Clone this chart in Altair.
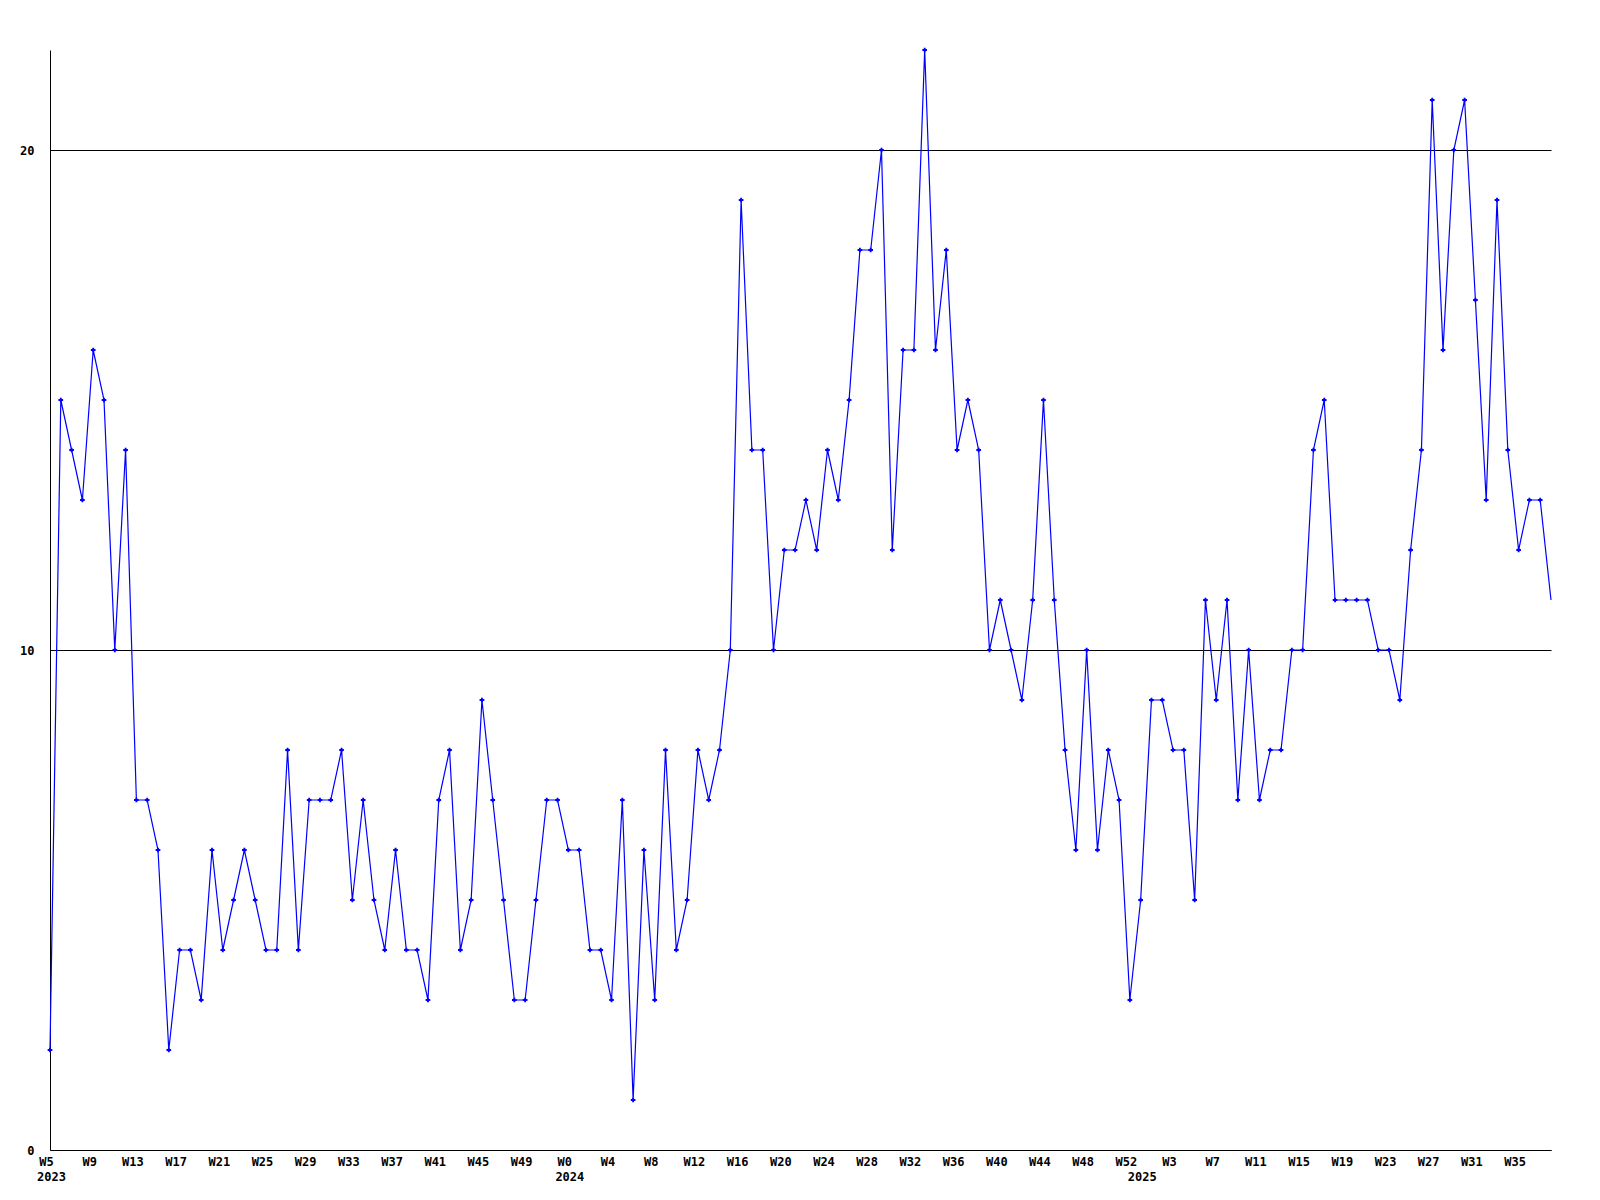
import json
import altair as alt
import pandas as pd

# Weekly counts, 2023 W5 .. 2025 W38
values = [2, 15, 14, 13, 16, 15, 10, 14, 7, 7, 6, 2, 4, 4, 3, 6, 4, 5, 6, 5,
          4, 4, 8, 4, 7, 7, 7, 8, 5, 7, 5, 4, 6, 4, 4, 3, 7, 8, 4, 5,
          9, 7, 5, 3, 3, 5, 7, 7, 6, 6, 4, 4, 3, 7, 1, 6, 3, 8, 4, 5,
          8, 7, 8, 10, 19, 14, 14, 10, 12, 12, 13, 12, 14, 13, 15, 18, 18, 20, 12, 16,
          16, 22, 16, 18, 14, 15, 14, 10, 11, 10, 9, 11, 15, 11, 8, 6, 10, 6, 8, 7,
          3, 5, 9, 9, 8, 8, 5, 11, 9, 11, 7, 10, 7, 8, 8, 10, 10, 14, 15, 11,
          11, 11, 11, 10, 10, 9, 12, 14, 21, 16, 20, 21, 17, 13, 19, 14, 12, 13, 13, 11]

week_nums = list(range(5, 53)) + list(range(0, 53)) + list(range(0, 39))
week_years = [2023] * 48 + [2024] * 53 + [2025] * 39
y_ticks = [0, 10, 20]

n = len(values)
df = pd.DataFrame({"idx": list(range(n)), "value": values})
df_pts = df.iloc[:-1]  # final (current, partial) week drawn without a marker

# week label every 4th point
tick_idx = list(range(0, n, 4))
labels = [f"W{week_nums[i]}" if i % 4 == 0 else "" for i in range(n)]
label_expr = json.dumps(labels) + "[datum.value]"

# year label at first week of each year
year_idx = [i for i in range(n) if i == 0 or week_years[i] != week_years[i - 1]]
df_years = pd.DataFrame({"idx": year_idx, "year": [str(week_years[i]) for i in year_idx]})

FONT = "DejaVu Sans Mono"
BLUE = "#0000ff"
H = 1100

x = alt.X("idx:Q",
          scale=alt.Scale(domain=[0, n - 1], nice=False, zero=False),
          axis=alt.Axis(values=tick_idx, labelExpr=label_expr, grid=False, ticks=False,
                        domainColor="black", domainWidth=1, title=None,
                        labelFont=FONT, labelFontSize=12, labelFontWeight="bold",
                        labelColor="black", labelPadding=6,
                        labelAlign="center", labelBaseline="top", labelOffset=-4,
                        labelOverlap=False, labelFlush=False, labelBound=False))
y = alt.Y("value:Q",
          scale=alt.Scale(domain=[0, 22], nice=False, zero=True),
          axis=alt.Axis(values=y_ticks, grid=True, gridColor="black", gridOpacity=1,
                        gridWidth=1, ticks=False, domainColor="black", domainWidth=1,
                        title=None, labelFont=FONT, labelFontSize=12, labelFontWeight="bold",
                        labelColor="black", labelPadding=16, labelBaseline="middle"))

line = alt.Chart(df).mark_line(color=BLUE, strokeWidth=1.2).encode(x=x, y=y)
pts = alt.Chart(df_pts).mark_point(shape="cross", filled=True, size=22, color=BLUE,
                                   opacity=1).encode(x=x, y=y)
years = alt.Chart(df_years).mark_text(
    font=FONT, fontSize=12, fontWeight="bold", color="black",
    align="center", baseline="middle", dx=1.5
).encode(x=alt.X("idx:Q"), y=alt.value(H + 27), text="year:N")

chart = alt.layer(line, pts, years).properties(
    width=1501, height=H,
    autosize=alt.AutoSizeParams(type="none"),
    padding={"left": 42, "top": 42, "right": 40, "bottom": 40},
    background="white",
).configure_view(stroke=None)

chart.save("out.html", embed_options={"renderer": "svg", "actions": False})
